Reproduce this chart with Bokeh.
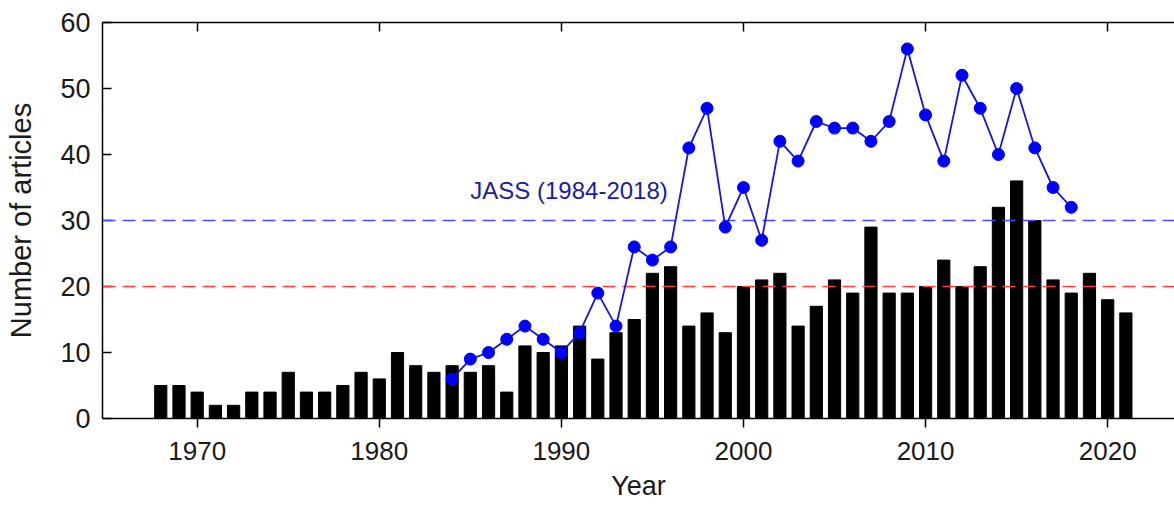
from bokeh.plotting import figure
from bokeh.models import (Range1d, LinearAxis, FixedTicker, Span, Label,
                          ColumnDataSource, CustomLabelingPolicy)
from bokeh.embed import file_html
from bokeh.resources import INLINE

# ---- data ----
years = list(range(1968, 2022))
articles = [5, 5, 4, 2, 2, 4, 4, 7, 4, 4, 5, 7, 6, 10, 8, 7, 8, 7, 8, 4,
            11, 10, 11, 14, 9, 13, 15, 22, 23, 14, 16, 13, 20, 21, 22, 14,
            17, 21, 19, 29, 19, 19, 20, 24, 20, 23, 32, 36, 30, 21, 19, 22,
            18, 16]
jass_years = list(range(1984, 2019))
jass_articles = [6, 9, 10, 12, 14, 12, 10, 13, 19, 14,
                 26, 24, 26, 41, 47, 29, 35, 27, 42, 39,
                 45, 44, 44, 42, 45, 56, 46, 39, 52, 47,
                 40, 50, 41, 35, 32]
blue_level = 30
red_level = 20
jass_label = "JASS (1984-2018)"
label_x, label_y = 1985, 34.5
x_ticks = [1970, 1980, 1990, 2000, 2010, 2020]
y_ticks = [0, 10, 20, 30, 40, 50, 60]

FONT = "Liberation Sans"

p = figure(width=1174, height=505, output_backend="svg", toolbar_location=None,
           x_range=Range1d(1964.8, 2023.67), y_range=Range1d(0, 60),
           min_border_left=102, min_border_top=22, min_border_right=0,
           min_border_bottom=87)
p.grid.visible = False
p.outline_line_color = None
p.background_fill_color = "white"
p.border_fill_color = "white"

src = ColumnDataSource(dict(year=years, n=articles))
p.vbar(x="year", top="n", width=0.67, bottom=0, source=src,
       fill_color="black", line_color="black")

p.add_layout(Span(location=blue_level, dimension="width", line_color="#4a4aff",
                  line_width=1.5, line_dash="13 7"))
p.add_layout(Span(location=red_level, dimension="width", line_color="#ff4040",
                  line_width=1.5, line_dash="13 7"))

jsrc = ColumnDataSource(dict(year=jass_years, n=jass_articles))
l = p.line(x="year", y="n", source=jsrc, line_color="#1414e6", line_width=1.8)
c = p.scatter(x="year", y="n", source=jsrc, size=12, fill_color="#0000ff",
              line_color="#0000ff")
l.level = "overlay"
c.level = "overlay"

p.add_layout(Label(x=label_x, y=label_y, text=jass_label, text_font=FONT,
                   text_font_size="24px", text_color="#1c1ca0",
                   text_align="left", text_baseline="alphabetic"))

# axes
xa = p.xaxis[0]
xa.ticker = FixedTicker(ticks=x_ticks)
xa.minor_tick_line_color = None
xa.major_tick_in = 0
xa.major_tick_out = 9
xa.major_label_standoff = 14
xa.axis_label = "Year"
xa.axis_label_standoff = 8

ya = p.yaxis[0]
ya.ticker = FixedTicker(ticks=y_ticks)
ya.minor_tick_line_color = None
ya.major_tick_in = 9
ya.major_tick_out = 0
ya.major_label_standoff = 12
ya.axis_label = "Number of articles"
ya.axis_label_standoff = 20

for ax in (xa, ya):
    ax.axis_line_width = 1.5
    ax.major_tick_line_width = 1.5
    ax.axis_line_color = "black"
    ax.major_tick_line_color = "black"
    ax.major_label_text_font = FONT
    ax.major_label_text_color = "#1a1a1a"
    ax.axis_label_text_font = FONT
    ax.axis_label_text_font_style = "normal"
    ax.axis_label_text_color = "#1a1a1a"
xa.major_label_text_font_size = "26px"
ya.major_label_text_font_size = "27px"
xa.axis_label_text_font_size = "27px"
ya.axis_label_text_font_size = "29px"

# top frame line with inward ticks, no labels
top = LinearAxis(ticker=FixedTicker(ticks=x_ticks), major_tick_in=9,
                 major_tick_out=0, minor_tick_line_color=None,
                 major_label_policy=CustomLabelingPolicy(code="return []"),
                 major_label_text_font_size="1px", major_label_standoff=0,
                 axis_line_width=1.5, major_tick_line_width=1.5)
p.add_layout(top, "above")

open("out.html", "w").write(file_html(p, INLINE))
